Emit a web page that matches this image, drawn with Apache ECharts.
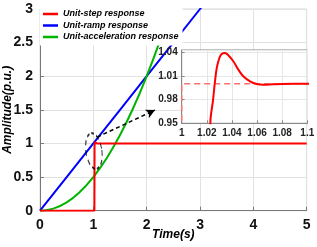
<!DOCTYPE html>
<html>
<head>
<meta charset="utf-8">
<script src="https://cdn.jsdelivr.net/npm/echarts@6/dist/echarts.min.js"></script>
<style>html,body{margin:0;padding:0;background:#fff}#c{width:317px;height:247px}</style>
</head>
<body>
<div id="c"></div>
<script>
// ---- data ----
const seriesNames = ['Unit-step response', 'Unit-ramp response', 'Unit-acceleration response'];
const stepT = [0, 1.02, 1.0228, 1.0250, 1.0263, 1.0279, 1.0300, 1.0318, 1.0345, 1.0371, 1.0411, 1.0451, 1.0490, 1.0544, 1.0597, 1.0650, 1.0730, 1.0800, 1.0900, 1.1000, 5];
const stepV = [0, 0, 0.95, 0.98, 1.0, 1.0198, 1.0324, 1.0375, 1.0388, 1.0359, 1.0283, 1.0177, 1.0093, 1.0030, 0.9995, 0.9987, 0.9992, 0.9996, 0.9998, 0.9998, 1.0];
const refT = [1, 1, 1.1];
const refV = [0.94, 1.0, 1.0];
const rampT = [0, 0.5, 1, 1.5, 2, 2.5, 3, 3.1];
const rampV = [0, 0.5, 1, 1.5, 2, 2.5, 3, 3.1];
const accT = [0, 0.25, 0.5, 0.75, 1, 1.25, 1.5, 1.75, 2, 2.25, 2.5];
const accV = [0, 0.031, 0.125, 0.281, 0.5, 0.781, 1.125, 1.531, 2.0, 2.531, 3.125];
const xTicks = [0, 5, 1];
const yTicks = [0, 3, 0.5];
const insetX = [1, 1.1, 0.02];
const insetY = [0.95, 1.0425, 0.03];
const zoomMark = [1.01, 0.887];
const arrowFrom = [1.069, 1.094];
const arrowTo = [2.156, 1.496];

const zip = (a, b) => a.map((v, i) => [v, b[i]]);
const FONT = 'Arial, "Liberation Sans", sans-serif';
const RED = '#ff0000', BLUE = '#0000ff', GREEN = '#00b400';

const chart = echarts.init(document.getElementById('c'), null, {renderer: 'canvas'});
const fmt = v => String(parseFloat(v.toFixed(2)));

chart.setOption({
  animation: false,
  backgroundColor: '#fff',
  textStyle: {fontFamily: FONT},
  legend: {
    data: seriesNames,
    orient: 'vertical',
    left: 40, top: 7.5,
    icon: 'rect',
    itemWidth: 15, itemHeight: 2.5, itemGap: 0.5,
    padding: [1, 4, 3, 3],
    backgroundColor: '#fff',
    textStyle: {fontSize: 9, lineHeight: 11, fontWeight: 'bold', fontStyle: 'italic', color: '#000', fontFamily: FONT},
    z: 10
  },
  grid: [
    {left: 40, right: 10.3, top: 9, bottom: 36.3, outerBoundsMode: 'none', show: true, borderColor: '#d8d8d8', borderWidth: 1, backgroundColor: '#fff'},
    {left: 181.7, right: 9.7, top: 50, bottom: 123.7, outerBoundsMode: 'none', show: true, borderColor: '#888', borderWidth: 1, backgroundColor: '#fff', z: 5}
  ],
  xAxis: [
    {gridIndex: 0, type: 'value', min: xTicks[0], max: xTicks[1], interval: xTicks[2],
     name: 'Time(s)', nameLocation: 'middle', nameGap: 18, nameMoveOverlap: false,
     nameTextStyle: {fontSize: 12, fontWeight: 'bold', fontStyle: 'italic', color: '#000'},
     axisLine: {lineStyle: {color: '#777', width: 1}},
     axisTick: {inside: true, length: 4, lineStyle: {color: '#777'}},
     axisLabel: {fontSize: 14, fontWeight: 'bold', color: '#111', margin: 7},
     splitLine: {show: true, lineStyle: {color: '#e2e2e2', width: 1}}},
    {gridIndex: 1, type: 'value', min: insetX[0], max: insetX[1], interval: insetX[2], z: 6,
     axisLine: {lineStyle: {color: '#888', width: 1}},
     axisTick: {inside: true, length: 3, lineStyle: {color: '#888'}},
     axisLabel: {fontSize: 10, fontWeight: 'bold', color: '#222', margin: 5, formatter: fmt},
     splitLine: {show: true, lineStyle: {color: '#e6e6e6', width: 1}}}
  ],
  yAxis: [
    {gridIndex: 0, type: 'value', min: yTicks[0], max: yTicks[1], interval: yTicks[2],
     name: 'Amplitude(p.u.)', nameLocation: 'middle', nameGap: 26, nameMoveOverlap: false,
     nameTextStyle: {fontSize: 12, fontWeight: 'bold', fontStyle: 'italic', color: '#000'},
     axisLine: {show: true, lineStyle: {color: '#777', width: 1}},
     axisTick: {show: true, inside: true, length: 4, lineStyle: {color: '#777'}},
     axisLabel: {fontSize: 14, fontWeight: 'bold', color: '#111', margin: 7},
     splitLine: {show: true, lineStyle: {color: '#e2e2e2', width: 1}}},
    {gridIndex: 1, type: 'value', min: insetY[0], max: insetY[1], interval: insetY[2], z: 6,
     axisLine: {show: true, lineStyle: {color: '#888', width: 1}},
     axisTick: {show: true, inside: true, length: 3, lineStyle: {color: '#888'}},
     axisLabel: {fontSize: 10, fontWeight: 'bold', color: '#222', margin: 4, formatter: fmt, showMaxLabel: false},
     splitLine: {show: true, lineStyle: {color: '#e6e6e6', width: 1}}}
  ],
  series: [
    {name: seriesNames[0], type: 'line', xAxisIndex: 0, yAxisIndex: 0, data: zip(stepT, stepV),
     symbol: 'none', lineStyle: {color: RED, width: 2}, itemStyle: {color: RED}, z: 3},
    {name: seriesNames[1], type: 'line', xAxisIndex: 0, yAxisIndex: 0, data: zip(rampT, rampV),
     symbol: 'none', lineStyle: {color: BLUE, width: 2}, itemStyle: {color: BLUE}, z: 2,
     markLine: {silent: true, symbol: ['none', 'arrow'], symbolSize: [7, 9], label: {show: false},
       lineStyle: {color: '#000', width: 1.5, type: [4, 3]},
       data: [[{coord: arrowFrom}, {coord: arrowTo}]]}},
    {name: seriesNames[2], type: 'line', xAxisIndex: 0, yAxisIndex: 0, data: zip(accT, accV), smooth: true,
     symbol: 'none', lineStyle: {color: GREEN, width: 2}, itemStyle: {color: GREEN}, z: 2},
    {name: 'zoom-mark', type: 'scatter', xAxisIndex: 0, yAxisIndex: 0, data: [zoomMark],
     symbol: 'circle', symbolSize: [16, 36], symbolRotate: 8, silent: true, z: 4,
     itemStyle: {color: 'rgba(0,0,0,0)', borderColor: '#000', borderWidth: 1.5, borderType: [4, 3]}},
    {name: 'inset-ref', type: 'line', xAxisIndex: 1, yAxisIndex: 1, data: zip(refT, refV),
     symbol: 'none', lineStyle: {color: '#ff7070', width: 1.5, type: [6, 4]}, z: 7},
    {name: 'inset-step', type: 'line', xAxisIndex: 1, yAxisIndex: 1, data: zip(stepT, stepV), smooth: 0.35,
     symbol: 'none', lineStyle: {color: RED, width: 2}, z: 8}
  ]
});
</script>
</body>
</html>
